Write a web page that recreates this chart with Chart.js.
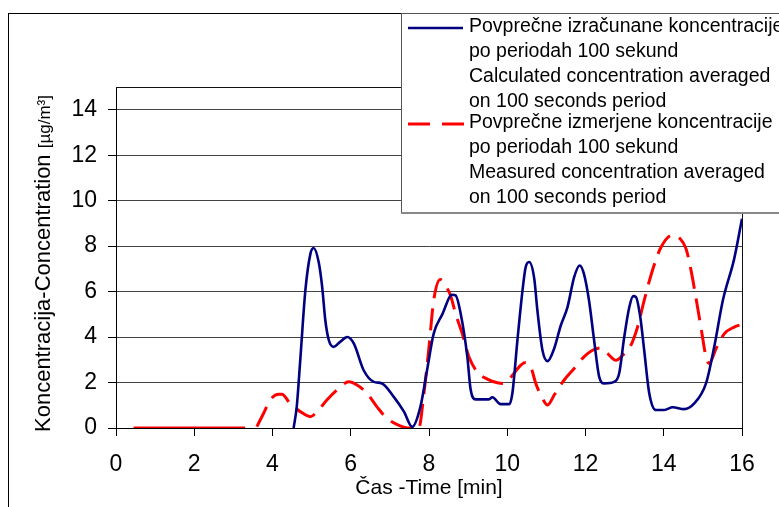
<!DOCTYPE html>
<html>
<head>
<meta charset="utf-8">
<script src="https://cdn.jsdelivr.net/npm/chart.js@4.4.1/dist/chart.umd.min.js"></script>
<style>
    body { margin: 0; background: #fff; }
    canvas { display: block; }
</style>
</head>
<body>
<canvas id="chart" width="779" height="507"></canvas>
<script>
// Calculated concentration (blue, solid), time in minutes
const calcTime = [4.54, 4.62, 4.71, 4.84, 4.97, 5.05, 5.18, 5.27, 5.35, 5.44, 5.56, 5.73, 5.91, 6.08, 6.33, 6.59, 6.8, 7.1, 7.36, 7.57,
    7.78, 7.95, 8.12, 8.34, 8.59, 8.68, 8.81, 8.98, 9.06, 9.19, 9.53, 9.62, 9.83, 10.05, 10.13, 10.26, 10.39, 10.47, 10.56, 10.69,
    10.77, 10.9, 11.03, 11.2, 11.37, 11.54, 11.71, 11.85, 11.96, 12.09, 12.22, 12.35, 12.48, 12.73, 12.86, 12.99, 13.12, 13.22, 13.29, 13.4,
    13.5, 13.63, 13.8, 14.01, 14.23, 14.52, 14.78, 15.08, 15.29, 15.51, 15.8, 16.0];
const calcConc = [0, 0.94, 3.0, 6.05, 7.67, 7.92, 7.3, 6.2, 4.74, 3.86, 3.57, 3.79, 4.0, 3.71, 2.54, 2.03, 1.96, 1.37, 0.72, 0.05,
    0.93, 2.54, 4.15, 5.0, 5.86, 5.83, 5.03, 3.13, 1.74, 1.26, 1.26, 1.35, 1.05, 1.05, 1.52, 3.86, 6.05, 7.07, 7.3, 6.57,
    5.18, 3.42, 2.94, 3.5, 4.52, 5.32, 6.64, 7.15, 6.78, 5.61, 3.86, 2.25, 1.96, 2.03, 2.4, 4.0, 5.32, 5.8, 5.76, 4.88,
    3.42, 1.52, 0.79, 0.79, 0.91, 0.83, 1.08, 1.96, 3.57, 5.61, 7.44, 9.2];

// Measured concentration (red, dashed), null = gap in the line
const measTime = [0.45, 3.3, 3.45, 3.6, 3.77, 3.94, 4.16, 4.24, 4.45, 4.71, 4.97, 5.14, 5.39, 5.65, 5.95, 6.16, 6.42, 6.67, 6.93, 7.27,
    7.45, 7.74, 7.87, 8.0, 8.12, 8.29, 8.42, 8.55, 8.68, 8.85, 9.02, 9.23, 9.49, 9.75, 9.92, 10.17, 10.34, 10.47, 10.6, 10.73,
    10.9, 11.03, 11.2, 11.45, 11.71, 11.96, 12.18, 12.39, 12.56, 12.78, 12.95, 13.16, 13.33, 13.5, 13.71, 13.93, 14.23, 14.4, 14.57, 14.69,
    14.82, 14.95, 15.08, 15.16, 15.34, 15.55, 15.8, 16.0];
const measConc = [0, 0, null, 0.06, 0.64, 1.23, 1.49, 1.49, 1.08, 0.72, 0.5, 0.72, 1.23, 1.67, 2.03, 1.89, 1.52, 0.93, 0.42, 0.09,
    0, 0, 1.52, 3.57, 5.61, 6.53, 6.27, 5.83, 5.03, 4.15, 3.13, 2.47, 2.15, 1.99, 1.96, 2.4, 2.76, 2.88, 2.69, 1.96,
    1.3, 1.01, 1.45, 2.1, 2.62, 3.13, 3.42, 3.52, 3.28, 2.98, 3.2, 3.64, 4.44, 5.61, 6.93, 7.95, 8.49, 8.36, 7.88, 7.0,
    5.76, 4.44, 3.13, 2.84, 3.5, 4.15, 4.44, 4.56];

const xTicks = [0, 2, 4, 6, 8, 10, 12, 14, 16];
const yTicks = [0, 2, 4, 6, 8, 10, 12, 14];

const xTitle = 'Čas -Time [min]';
const yTitleMain = 'Koncentracija-Concentration ';
const yTitleUnit = '[µg/m³]';

const legendCalc = ['Povprečne izračunane koncentracije', 'po periodah 100 sekund', 'Calculated concentration averaged', 'on 100 seconds period'];
const legendMeas = ['Povprečne izmerjene koncentracije', 'po periodah 100 sekund', 'Measured concentration averaged', 'on 100 seconds period'];

const blue = '#000080';
const red = '#ff0000';
const fontFamily = "'Liberation Sans', Arial, sans-serif";

const toPoints = (xs, ys) => xs.map((x, i) => ({ x: x, y: ys[i] }));

// White background, frames, y title and the boxed legend
const framePlugin = {
    id: 'frame',
    beforeDraw: (chart) => {
        const ctx = chart.ctx;
        ctx.save();
        ctx.fillStyle = '#fff';
        ctx.fillRect(0, 0, chart.width, chart.height);
        ctx.strokeStyle = '#000';
        ctx.lineWidth = 1;
        ctx.strokeRect(8.5, 13.5, 900, 600);
        ctx.restore();
    },
    afterDraw: (chart) => {
        const ctx = chart.ctx;
        const area = chart.chartArea;
        ctx.save();

        // top and right edge of the plot area
        ctx.strokeStyle = '#111';
        ctx.lineWidth = 1;
        ctx.beginPath();
        ctx.moveTo(area.left, area.top + 0.5);
        ctx.lineTo(area.right + 0.5, area.top + 0.5);
        ctx.lineTo(area.right + 0.5, area.bottom);
        ctx.stroke();

        // y axis title, unit part in a smaller font
        ctx.translate(44, 432);
        ctx.rotate(-Math.PI / 2);
        ctx.fillStyle = '#000';
        ctx.textBaseline = 'middle';
        ctx.textAlign = 'left';
        ctx.font = '22px ' + fontFamily;
        ctx.fillText(yTitleMain, 0, 0);
        const mainWidth = ctx.measureText(yTitleMain).width;
        ctx.font = '17px ' + fontFamily;
        ctx.fillText(yTitleUnit, mainWidth, 1);
        ctx.restore();

        // legend box
        ctx.save();
        ctx.fillStyle = '#fff';
        ctx.fillRect(401, 13, 400, 200);
        ctx.strokeStyle = '#555';
        ctx.lineWidth = 1;
        ctx.strokeRect(401.5, 13.5, 400, 199);
        ctx.strokeStyle = '#888';
        ctx.lineWidth = 2;
        ctx.beginPath();
        ctx.moveTo(401, 213);
        ctx.lineTo(779, 213);
        ctx.stroke();

        ctx.lineWidth = 2.5;
        ctx.strokeStyle = blue;
        ctx.beginPath();
        ctx.moveTo(408, 28);
        ctx.lineTo(463, 28);
        ctx.stroke();

        ctx.lineWidth = 3;
        ctx.strokeStyle = red;
        ctx.setLineDash([22, 12]);
        ctx.beginPath();
        ctx.moveTo(408, 124);
        ctx.lineTo(464, 124);
        ctx.stroke();
        ctx.setLineDash([]);

        ctx.fillStyle = '#000';
        ctx.font = '19.5px ' + fontFamily;
        ctx.textBaseline = 'middle';
        ctx.textAlign = 'left';
        const calcRows = [27, 52, 77, 102];
        const measRows = [123, 148, 173, 198];
        legendCalc.forEach((line, i) => ctx.fillText(line, 469, calcRows[i]));
        legendMeas.forEach((line, i) => ctx.fillText(line, 469, measRows[i]));
        ctx.restore();
    }
};

const chartData = {
    datasets: [{
        label: legendCalc.join(' '),
        data: toPoints(calcTime, calcConc),
        borderColor: blue,
        borderWidth: 2.6,
        pointRadius: 0,
        cubicInterpolationMode: 'monotone',
        fill: false
    }, {
        label: legendMeas.join(' '),
        data: toPoints(measTime, measConc),
        borderColor: red,
        borderWidth: 3,
        borderDash: [22, 10],
        pointRadius: 0,
        cubicInterpolationMode: 'monotone',
        spanGaps: false,
        fill: false,
        segment: {
            // the zero stretch at the start is drawn solid
            borderDash: (c) => c.p1.parsed.x <= 3.3 ? [] : undefined
        }
    }]
};

const chartConfig = {
    type: 'line',
    data: chartData,
    options: {
        responsive: false,
        animation: false,
        devicePixelRatio: 1,
        layout: {
            padding: { top: 87, right: 37, left: 0, bottom: 0 }
        },
        plugins: {
            legend: { display: false },
            tooltip: { enabled: false }
        },
        scales: {
            x: {
                type: 'linear',
                min: 0,
                max: 16,
                afterBuildTicks: (scale) => { scale.ticks = xTicks.map(v => ({ value: v })); },
                afterFit: (scale) => { scale.height = 79; },
                grid: {
                    drawOnChartArea: false,
                    tickLength: 8,
                    tickColor: '#000'
                },
                border: { color: '#000', width: 1 },
                ticks: {
                    color: '#000',
                    padding: 15,
                    maxRotation: 0,
                    font: { family: fontFamily, size: 23 }
                },
                title: {
                    display: true,
                    text: xTitle,
                    color: '#000',
                    padding: { top: 0, bottom: 6 },
                    font: { family: fontFamily, size: 21 }
                }
            },
            y: {
                min: 0,
                max: 15,
                afterBuildTicks: (scale) => { scale.ticks = yTicks.map(v => ({ value: v })); },
                afterFit: (scale) => { scale.width = 116; },
                grid: {
                    color: '#444',
                    tickLength: 8,
                    tickColor: '#000'
                },
                border: { color: '#000', width: 1 },
                ticks: {
                    color: '#000',
                    padding: 11,
                    font: { family: fontFamily, size: 23 }
                }
            }
        }
    },
    plugins: [framePlugin]
};

new Chart(document.getElementById('chart').getContext('2d'), chartConfig);
</script>
</body>
</html>
